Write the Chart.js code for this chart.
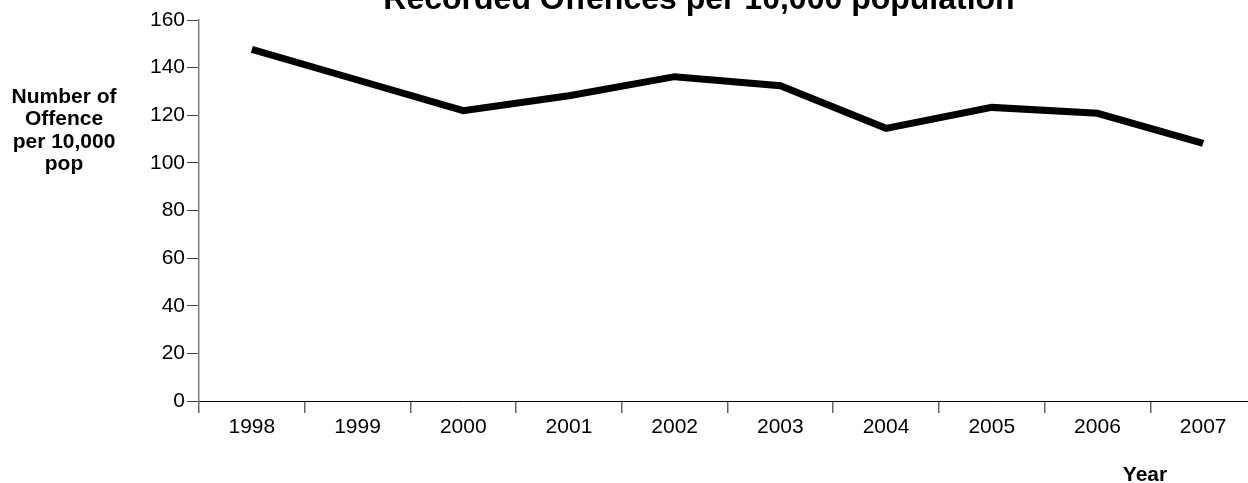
<!DOCTYPE html>
<html>
<head>
<meta charset="utf-8">
<script src="https://cdn.jsdelivr.net/npm/chart.js@4/dist/chart.umd.min.js"></script>
<style>
  html, body { margin: 0; padding: 0; background: #fff; overflow: hidden; }
  #wrap { position: relative; width: 1256px; height: 483px; }
</style>
</head>
<body>
<div id="wrap"><canvas id="c"></canvas></div>
<script>
const categories = ['1998','1999','2000','2001','2002','2003','2004','2005','2006','2007'];
const offences = [147.7, 134.8, 121.9, 128.2, 136.2, 132.4, 114.5, 123.3, 120.8, 108.2];
const yTicks = [0, 20, 40, 60, 80, 100, 120, 140, 160];
const chartTitle = 'Recorded Offences per 10,000 population';
const yTitleLines = ['Number of', 'Offence', 'per 10,000', 'pop'];
const xTitle = 'Year';

const FONT = "'Liberation Sans', Arial, sans-serif";
Chart.defaults.font.family = FONT;
Chart.defaults.color = '#000';

const textPlugin = {
  id: 'texts',
  afterDraw(chart) {
    const ctx = chart.ctx;
    ctx.save();
    ctx.fillStyle = '#000';
    ctx.textAlign = 'center';
    ctx.textBaseline = 'alphabetic';
    ctx.font = 'bold 32px ' + FONT;
    ctx.fillText(chartTitle, 699, 9);
    ctx.font = 'bold 21px ' + FONT;
    yTitleLines.forEach((t, i) => ctx.fillText(t, 64, 102.5 + i * 22.5));
    ctx.fillText(xTitle, 1145, 481);
    ctx.restore();
  }
};

new Chart(document.getElementById('c'), {
  type: 'line',
  data: {
    labels: categories,
    datasets: [{
      data: offences,
      borderColor: '#000',
      borderWidth: 7,
      borderCapStyle: 'butt',
      borderJoinStyle: 'miter',
      pointRadius: 0,
      pointHoverRadius: 0,
      tension: 0,
      fill: false
    }]
  },
  options: {
    responsive: true,
    maintainAspectRatio: false,
    animation: false,
    devicePixelRatio: 1,
    layout: { padding: { top: 20, left: 0, right: 0, bottom: 0 } },
    plugins: { legend: { display: false }, title: { display: false }, tooltip: { enabled: false } },
    scales: {
      x: {
        type: 'category',
        offset: true,
        grid: { display: true, drawOnChartArea: false, offset: true, tickLength: 12, color: '#666', lineWidth: 1.5 },
        border: { display: true, color: '#000', width: 1 },
        ticks: { font: { size: 21 }, color: '#000', padding: 2, maxRotation: 0, autoSkip: false },
        afterFit(s) { s.height = 82; }
      },
      y: {
        min: 0, max: 160,
        afterBuildTicks(s) { s.ticks = yTicks.map(v => ({ value: v })); },
        grid: { display: true, drawOnChartArea: false, tickLength: 12, color: '#444', lineWidth: 1 },
        border: { display: true, color: '#808080', width: 1.5 },
        ticks: { font: { size: 21 }, color: '#000', padding: 2 },
        afterFit(s) { s.width = 199; }
      }
    }
  },
  plugins: [textPlugin]
});
</script>
</body>
</html>
